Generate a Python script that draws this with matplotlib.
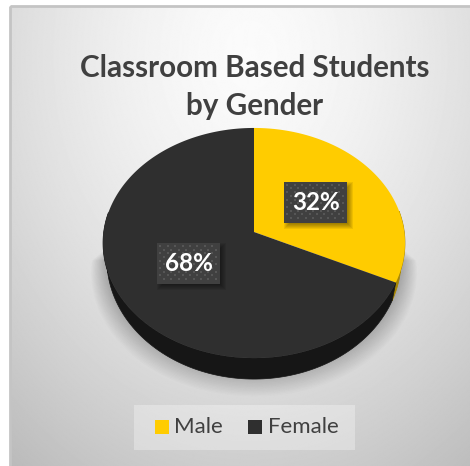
import numpy as np
import matplotlib.pyplot as plt
from matplotlib.patches import Rectangle

title = "Classroom Based Students\nby Gender"
labels = ["Male", "Female"]
values = [32, 68]
colors = ["#ffcc00", "#2f2f2f"]
side_colors = ["#a88600", "#161616"]

W, H = 470, 466
cx, cy = 254, 232
a, b, k = 150.3, 114.0, 0.0957
depth = 21

plt.rcParams['font.family'] = ['Lato', 'DejaVu Sans']


def project(theta, r=1.0):
    # clockwise from 12 o'clock, tilted circle with a bit of perspective
    u = r * np.sin(theta)
    v = -r * np.cos(theta)
    d = 1 - k * v
    return cx + a * u / d, cy + b * v / d


def rim(theta):
    x, y = project(theta)
    return cx + (x - cx) * 0.975, y + depth * (0.55 + 0.45 * (y - cy + 104) / 230)


fig = plt.figure(figsize=(W / 100, H / 100), dpi=100)
ax = fig.add_axes([0, 0, 1, 1])
ax.set_xlim(0, W)
ax.set_ylim(H, 0)
ax.axis("off")

# background gradient, light at the top middle and grey at the bottom right
yy, xx = np.mgrid[0:H, 0:W]
dist = np.sqrt(((xx - 245) / 330.0) ** 2 + ((yy - 50) / 430.0) ** 2)
bg = np.clip(0.985 - 0.19 * dist ** 1.5, 0, 1)
ax.imshow(bg, cmap="gray", vmin=0, vmax=1, extent=(10, W, H, 6), aspect="auto", zorder=0)
ax.set_xlim(0, W)
ax.set_ylim(H, 0)
ax.add_patch(Rectangle((10, 6), W, H, fill=False, ec="#c4c4c4", lw=2, zorder=1))

# soft shadow below the pie
low = np.linspace(np.pi * 0.5, np.pi * 1.5, 120)
for s in np.linspace(1.08, 0.99, 18):
    x, y = project(low)
    ax.fill(cx + (x - cx) * s, cy + 8 + (y - cy) * s + (s - 1) * 130 + 10, color="black",
            alpha=0.011, lw=0, zorder=2)

# pie wall then top
fracs = np.array(values) / sum(values)
edges = np.concatenate([[0], np.cumsum(fracs)]) * 2 * np.pi
for i in range(len(values)):
    t = np.linspace(edges[i], edges[i + 1], 200)
    t = t[(t > np.pi * 0.44) & (t < np.pi * 1.56)]
    if len(t):
        x1, y1 = project(t)
        x2, y2 = rim(t)
        ax.fill(np.r_[x1, x2[::-1]], np.r_[y1, y2[::-1]], color=side_colors[i], lw=0.5, zorder=3)
for i in range(len(values)):
    t = np.linspace(edges[i], edges[i + 1], 200)
    x, y = project(t)
    ax.fill(np.r_[cx, x], np.r_[cy, y], color=colors[i], lw=0, zorder=4)

# data labels
for i in range(len(values)):
    mid = (edges[i] + edges[i + 1]) / 2
    lx, ly = project(mid, 0.5)
    w, h = 63, 41
    x0, y0 = lx - w / 2, ly - h / 2
    for n in range(6):
        g = n * 1.0
        ax.add_patch(Rectangle((x0 + g, y0 + g), w + 5 - 2 * g + 1, h + 5 - 2 * g + 1, fc="black",
                               alpha=0.07, lw=0, zorder=5))
    ax.add_patch(Rectangle((x0, y0), w, h, fc="#404040", lw=0, zorder=6))
    dx, dy = [], []
    for r, yd in enumerate(np.arange(y0 + 3, y0 + h - 1, 3.7)):
        for xd in np.arange(x0 + 3 + (r % 2) * 3.7, x0 + w - 1, 7.4):
            dx.append(xd)
            dy.append(yd)
    ax.scatter(dx, dy, s=3, marker="s", color="#565656", lw=0, zorder=7)
    ax.text(lx, ly, "%d%%" % values[i], color="white", fontsize=17.5, fontweight="bold",
            ha="center", va="center", zorder=8)

ax.text(255, 87, title, color="#404040", fontsize=21.3, fontweight="bold", ha="center",
        va="center", linespacing=1.42, zorder=8)

# legend
ax.add_patch(Rectangle((134, 405), 221, 45, fc="white", alpha=0.3, lw=0, zorder=2))
swatch_x = [155, 248]
text_x = [174, 268]
for i in range(len(labels)):
    ax.add_patch(Rectangle((swatch_x[i], 420), 14, 14, fc=colors[i], lw=0, zorder=3))
    ax.text(text_x[i], 427, labels[i], color="#404040", fontsize=16, ha="left", va="center", zorder=3)

fig.savefig("out.png", dpi=100, facecolor="white")
